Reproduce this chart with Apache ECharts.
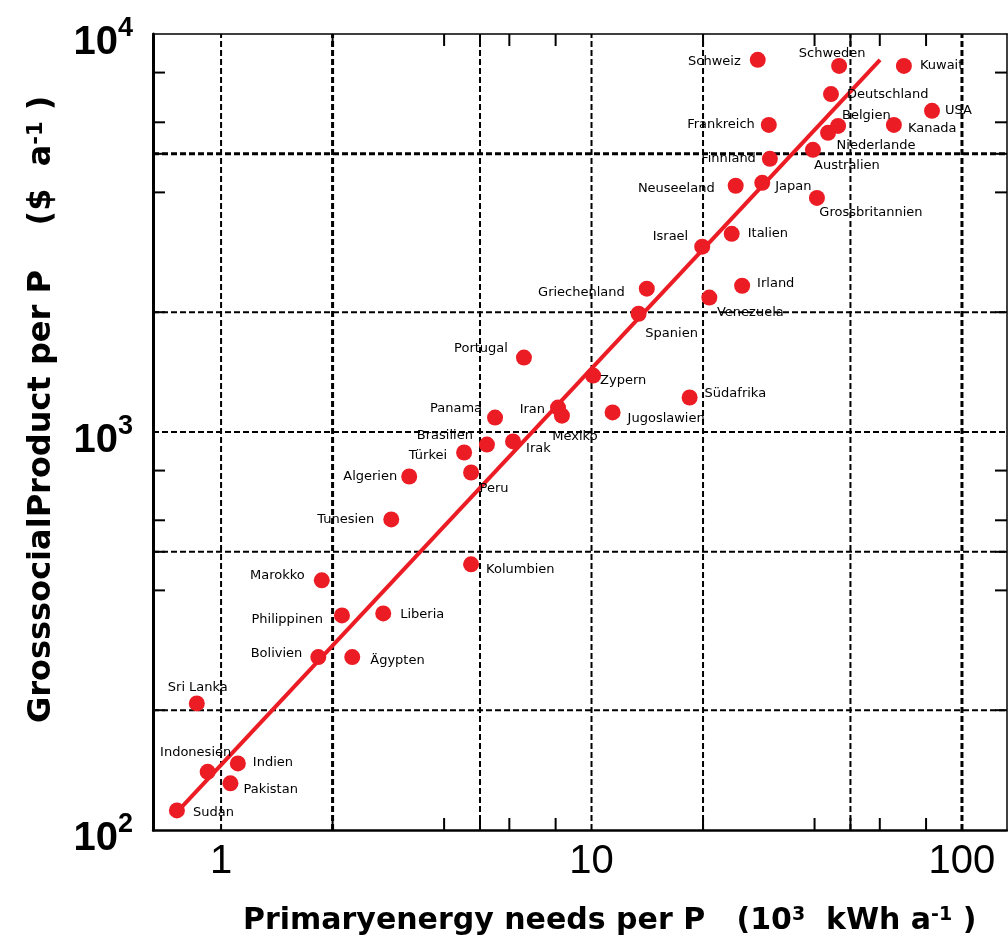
<!DOCTYPE html>
<html><head><meta charset="utf-8">
<script src="https://cdn.jsdelivr.net/npm/echarts@6/dist/echarts.min.js"></script>
<style>html,body{margin:0;padding:0;background:#fff}#c{width:1008px;height:942px}</style>
</head><body><div id="c"></div>
<script>
// ---- data ----
const countries = ["Sudan","Indonesien","Indien","Pakistan","Sri Lanka","Bolivien","Ägypten","Philippinen","Liberia","Marokko",
  "Tunesien","Algerien","Türkei","Peru","Brasilien","Irak","Kolumbien","Panama","Portugal","Iran",
  "Mexiko","Zypern","Jugoslawien","Südafrika","Spanien","Griechenland","Venezuela","Irland","Israel","Italien",
  "Neuseeland","Japan","Grossbritannien","Finnland","Australien","Niederlande","Belgien","Frankreich","Deutschland","Schweiz",
  "Schweden","Kuwait","USA","Kanada"];
const energy = [0.76,0.92,1.11,1.06,0.86,1.83,2.26,2.12,2.74,1.87,
  2.88,3.22,4.53,4.73,5.22,6.14,4.73,5.49,6.57,8.12,
  8.32,10.1,11.4,18.4,13.4,14.1,20.8,25.5,19.9,23.9,
  24.5,28.9,40.6,30.3,39.6,43.5,46.3,30.1,44.3,28.1,
  46.6,69.7,83.0,65.5];
const gsp = [112,140,147,131,208,272,272,346,350,424,
  603,773,888,791,930,947,465,1087,1538,1152,
  1099,1386,1120,1221,1982,2292,2176,2331,2922,3147,
  4157,4227,3873,4856,5117,5645,5876,5909,7063,8610,
  8312,8312,6411,5909];
const fitLine = [[0.747,109],[60.1,8610]];
const xTickLabels = [1,10,100];
const yTickLabels = [100,1000,10000];
const xGridValues = [1,2,5,10,20,50,100];
const yGridValues = [200,500,1000,2000,5000];
const xMinorTicks = [2,4,5,6,8,20,40,50,60,80];
const yMinorTicks = [200,400,500,600,800,2000,4000,5000,6000,8000];

// ---- layout / style ----
const X_MIN = 0.655, X_MAX = 132.3, Y_MIN = 100, Y_MAX = 10000;
const RED = '#ec1c24';
const thickX = [2,100], thickY = [5000];
const labelLayout = {
  "Sudan":['right',3,2],"Indien":['right',2,-1],"Pakistan":['right',0,6],"Ägypten":['right',5,4],"Liberia":['right',4,1],
  "Kolumbien":['right',2,5],"Irak":['right',0,7],"Zypern":['right',-6,5],"Jugoslawien":['right',2,6],"Südafrika":['right',2,-4],
  "Irland":['right',2,-2],"Italien":['right',3,0],"Japan":['right',0,4],"Deutschland":['right',3,1],"Kuwait":['right',3,0],
  "USA":['right',0,0],"Kanada":['right',1,4],"Belgien":['right',-9,-10],
  "Bolivien":['left',-3,-3],"Philippinen":['left',-6,4],"Marokko":['left',-4,-5],"Tunesien":['left',-4,0],"Algerien":['left',1,0],
  "Türkei":['left',-4,3],"Brasilien":['left',-1,-9],"Panama":['left',0,-9],"Iran":['left',0,2],"Portugal":['left',-3,-9],
  "Griechenland":['left',-9,4],"Israel":['left',-1,-10],"Neuseeland":['left',-8,3],"Finnland":['left',-1,0],"Frankreich":['left',-1,0],
  "Schweiz":['left',-4,2],
  "Indonesien":['top',-12,0],"Sri Lanka":['top',1,4],"Schweden":['top',-7,7],
  "Mexiko":['bottom',13,1],"Peru":['bottom',23,-3],"Spanien":['bottom',33,0],"Venezuela":['bottom',41,-4],
  "Grossbritannien":['bottom',54,-5],"Australien":['bottom',34,-4],"Niederlande":['bottom',48,-7]
};

const isPow10 = v => Math.abs(Math.log10(v) - Math.round(Math.log10(v))) < 1e-6;

const chart = echarts.init(document.getElementById('c'), null, {renderer:'canvas'});

const scatterData = countries.map((n,i) => {
  const L = labelLayout[n] || ['right',0,0];
  return {name:n, value:[energy[i], gsp[i]], label:{position:L[0], offset:[L[1],L[2]]}};
});

const option = {
  animation:false,
  backgroundColor:'#fff',
  grid:{left:153, right:1, top:34, bottom:112, containLabel:false, outerBoundsMode:'none'},
  xAxis:[
    {type:'log', logBase:10, min:X_MIN, max:X_MAX, position:'bottom',
     axisLine:{show:true, onZero:false, lineStyle:{color:'#000', width:2.5}},
     axisTick:{show:false}, splitLine:{show:false}, minorTick:{show:false},
     axisLabel:{show:true, margin:12, showMinLabel:false, showMaxLabel:false,
       fontSize:40, fontFamily:'Liberation Sans', color:'#000',
       formatter: v => (isPow10(v) && xTickLabels.some(t => Math.abs(t - v) < 1e-6)) ? String(Math.round(v)) : ''}},
    {type:'log', logBase:10, min:X_MIN, max:X_MAX, position:'top',
     axisLine:{show:true, onZero:false, lineStyle:{color:'#000', width:1.5}},
     axisTick:{show:false}, axisLabel:{show:false}, splitLine:{show:false}}
  ],
  yAxis:[
    {type:'log', logBase:10, min:Y_MIN, max:Y_MAX, position:'left',
     axisLine:{show:true, onZero:false, lineStyle:{color:'#000', width:3}},
     axisTick:{show:false}, splitLine:{show:false},
     axisLabel:{show:true, margin:20, padding:[18,0,0,0], verticalAlign:'middle',
       formatter: v => yTickLabels.some(t => Math.abs(t - v) < 1e-6) ? '{b|10}{s|' + Math.round(Math.log10(v)) + '}' : '',
       rich:{
         b:{fontSize:40, fontWeight:'bold', fontFamily:'Liberation Sans', color:'#000', lineHeight:56},
         s:{fontSize:27, fontWeight:'bold', fontFamily:'Liberation Sans', color:'#000', lineHeight:27, verticalAlign:'top'}
       }}},
    {type:'log', logBase:10, min:Y_MIN, max:Y_MAX, position:'right',
     axisLine:{show:true, onZero:false, lineStyle:{color:'#000', width:1.5}},
     axisTick:{show:false}, axisLabel:{show:false}, splitLine:{show:false}}
  ],
  series:[
    { // vertical dashed grid lines
      type:'custom', z:1, silent:true, clip:false,
      data: xGridValues.map(v => [v, Y_MIN]),
      renderItem:(params, api) => {
        const v = api.value(0);
        const a = api.coord([v, Y_MIN]), b = api.coord([v, Y_MAX]);
        return {type:'line', shape:{x1:a[0], y1:a[1], x2:b[0], y2:b[1]},
          style:{stroke:'#000', lineWidth: thickX.includes(v) ? 3 : 2, lineDash:[6,3]}};
      }
    },
    { // horizontal dashed grid lines
      type:'custom', z:1, silent:true, clip:false,
      data: yGridValues.map(v => [X_MIN, v]),
      renderItem:(params, api) => {
        const v = api.value(1);
        const a = api.coord([X_MIN, v]), b = api.coord([X_MAX, v]);
        return {type:'line', shape:{x1:a[0], y1:a[1], x2:b[0], y2:b[1]},
          style:{stroke:'#000', lineWidth: thickY.includes(v) ? 3 : 2, lineDash:[6,3]}};
      }
    },
    { // x ticks (bottom and top)
      type:'custom', z:5, silent:true, clip:false,
      data: xMinorTicks.map(v => [v, Y_MIN]),
      renderItem:(params, api) => {
        const v = api.value(0);
        const a = api.coord([v, Y_MIN]), b = api.coord([v, Y_MAX]);
        const len = 12;
        return {type:'group', children:[
          {type:'line', shape:{x1:a[0], y1:a[1], x2:a[0], y2:a[1]-len}, style:{stroke:'#000', lineWidth:2}},
          {type:'line', shape:{x1:b[0], y1:b[1], x2:b[0], y2:b[1]+len}, style:{stroke:'#000', lineWidth:2}}
        ]};
      }
    },
    { // y ticks (left and right)
      type:'custom', z:5, silent:true, clip:false,
      data: yMinorTicks.map(v => [X_MIN, v]),
      renderItem:(params, api) => {
        const v = api.value(1);
        const a = api.coord([X_MIN, v]), b = api.coord([X_MAX, v]);
        const len = 12;
        return {type:'group', children:[
          {type:'line', shape:{x1:a[0], y1:a[1], x2:a[0]+len, y2:a[1]}, style:{stroke:'#000', lineWidth:2}},
          {type:'line', shape:{x1:b[0], y1:b[1], x2:b[0]-len, y2:b[1]}, style:{stroke:'#000', lineWidth:2}}
        ]};
      }
    },
    { // regression line
      type:'line', z:2, silent:true, data:fitLine, showSymbol:false, symbol:'none',
      lineStyle:{color:RED, width:4}
    },
    { // countries
      type:'scatter', z:3, data:scatterData, symbol:'circle', symbolSize:16,
      itemStyle:{color:RED, opacity:1},
      label:{show:true, formatter:'{b}', distance:5, fontSize:13, fontFamily:'DejaVu Sans', color:'#000'}
    }
  ],
  graphic:[
    {type:'text', x:243, y:921, silent:true,
     style:{text:'Primaryenergy needs per P   (10{s|3}  kWh a{s|-1} )', align:'left', verticalAlign:'middle',
       fontSize:30, fontWeight:'bold', fontFamily:'DejaVu Sans', fill:'#000',
       rich:{s:{fontSize:19, fontWeight:'bold', fontFamily:'DejaVu Sans', fill:'#000', verticalAlign:'top', lineHeight:19}}}},
    {type:'text', x:42, y:723, rotation:Math.PI/2, silent:true,
     style:{text:'GrosssocialProduct per P    ($  a{s|-1} )', align:'left', verticalAlign:'middle',
       fontSize:32, fontWeight:'bold', fontFamily:'DejaVu Sans', fill:'#000',
       rich:{s:{fontSize:21, fontWeight:'bold', fontFamily:'DejaVu Sans', fill:'#000', verticalAlign:'top', lineHeight:21}}}}
  ]
};
chart.setOption(option);
</script>
</body></html>
